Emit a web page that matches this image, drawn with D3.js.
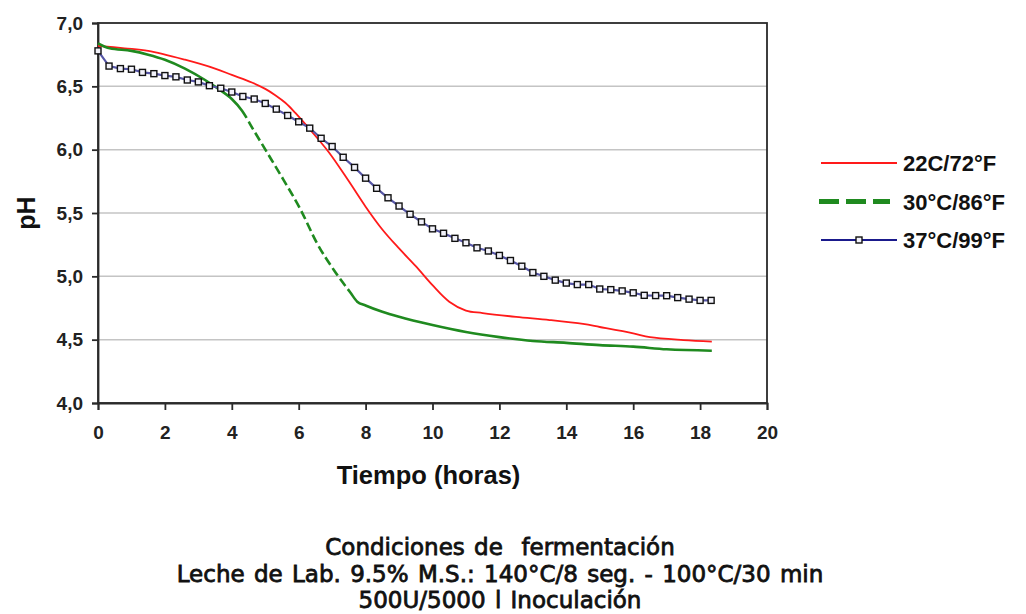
<!DOCTYPE html>
<html>
<head>
<meta charset="utf-8">
<script src="https://cdn.jsdelivr.net/npm/d3@7"></script>
<style>
  body { margin: 0; background: #fff; }
  svg { display: block; }
  .tick text { font-family: "Liberation Sans", Arial, sans-serif; font-weight: bold; fill: #222; }
</style>
</head>
<body>
<svg id="chart" width="1026" height="614"></svg>
<script>
// tick values
const xTicks = [0, 2, 4, 6, 8, 10, 12, 14, 16, 18, 20]
const yTicks = [4.0, 4.5, 5.0, 5.5, 6.0, 6.5, 7.0]

// 22C/72F
const redTime = [0, 0.8, 1.5, 2.6, 3.5, 4.0, 4.6, 5.0, 5.3, 5.6, 5.9, 6.3, 6.9, 7.5, 8.0, 8.5, 9.0, 9.5,
    10.0, 10.5, 11.0, 11.5, 12.5, 13.5, 14.5, 15.0, 16.0, 16.5, 17.5, 18.35]
const redPH = [6.82, 6.80, 6.78, 6.71, 6.64, 6.59, 6.53, 6.48, 6.43, 6.37, 6.29, 6.17, 5.98, 5.75, 5.55, 5.37, 5.22, 5.08,
    4.93, 4.80, 4.73, 4.71, 4.68, 4.655, 4.624, 4.60, 4.55, 4.52, 4.497, 4.485]

// 30C/86F
const greenTime = [0, 0.35, 1.0, 1.5, 2.0, 2.6, 3.2, 3.6, 4.0, 4.3, 4.65, 5.05, 5.55, 6.05, 6.55, 7.05, 7.55,
    7.75, 8.0, 8.5, 9.0, 10.0, 11.0, 12.0, 13.0, 14.0, 15.0, 16.0, 17.0, 18.35]
const greenPH = [6.84, 6.80, 6.78, 6.75, 6.71, 6.64, 6.55, 6.48, 6.40, 6.31, 6.155, 5.98, 5.76, 5.53, 5.26, 5.05, 4.87,
    4.80, 4.77, 4.72, 4.68, 4.615, 4.56, 4.52, 4.49, 4.475, 4.457, 4.445, 4.424, 4.413]

// 37C/99F (one reading every 20 min)
const blueTime = [0, 0.33, 0.67, 1.0, 1.33, 1.67, 2.0, 2.33, 2.67, 3.0, 3.33, 3.67, 4.0, 4.33, 4.67,
    5.0, 5.33, 5.67, 6.0, 6.33, 6.67, 7.0, 7.33, 7.67, 8.0, 8.33, 8.67, 9.0, 9.33, 9.67,
    10.0, 10.33, 10.67, 11.0, 11.33, 11.67, 12.0, 12.33, 12.67, 13.0, 13.33, 13.67, 14.0, 14.33, 14.67,
    15.0, 15.33, 15.67, 16.0, 16.33, 16.67, 17.0, 17.33, 17.67, 18.0, 18.33]
const bluePH = [6.78, 6.66, 6.64, 6.635, 6.61, 6.60, 6.585, 6.575, 6.55, 6.535, 6.505, 6.485, 6.455, 6.42, 6.40,
    6.365, 6.32, 6.27, 6.22, 6.17, 6.09, 6.025, 5.94, 5.86, 5.775, 5.695, 5.62, 5.555, 5.49, 5.43,
    5.375, 5.34, 5.30, 5.265, 5.225, 5.20, 5.165, 5.125, 5.08, 5.03, 5.0, 4.97, 4.947, 4.935, 4.935,
    4.90, 4.895, 4.885, 4.87, 4.85, 4.848, 4.847, 4.832, 4.82, 4.81, 4.81]

// the 30C line only shows its dashes on the steep part
const greenDashFrom = 4.3
const greenDashTo = 7.55

const seriesNames = ["22C/72°F", "30°C/86°F", "37°C/99°F"]
const footnotes = [
    "Condiciones de  fermentación",
    "Leche de Lab. 9.5% M.S.: 140°C/8 seg. - 100°C/30 min",
    "500U/5000 l Inoculación"
]

const svg = d3.select("#chart")
const plotLeft = 98, plotRight = 767, plotTop = 23, plotBottom = 403

const x = d3.scaleLinear().domain([0, 20]).range([plotLeft, plotRight])
const y = d3.scaleLinear().domain([4, 7]).range([plotBottom, plotTop])

const zip = (t, v) => t.map((d, i) => ({t: d, v: v[i]}))
const smoothLine = d3.line().x(d => x(d.t)).y(d => y(d.v)).curve(d3.curveCatmullRom.alpha(0.5))
const line = d3.line().x(d => x(d.t)).y(d => y(d.v)).curve(d3.curveMonotoneX)

// grid
svg.append("g").selectAll("line")
    .data(yTicks.slice(1, -1)).enter().append("line")
    .attr("x1", plotLeft).attr("x2", plotRight)
    .attr("y1", d => y(d)).attr("y2", d => y(d))
    .attr("stroke", "#c4c4c4").attr("stroke-width", 1.5)

// frame
svg.append("rect")
    .attr("x", plotLeft).attr("y", plotTop)
    .attr("width", plotRight - plotLeft).attr("height", plotBottom - plotTop)
    .attr("fill", "none").attr("stroke", "#2a2a2a").attr("stroke-width", 1.8)

// axes
const yAxis = svg.append("g").attr("transform", `translate(${plotLeft},0)`)
    .call(d3.axisLeft(y).tickValues(yTicks).tickSize(6).tickPadding(9)
        .tickFormat(d => d.toFixed(1).replace(".", ",")))
const xAxis = svg.append("g").attr("transform", `translate(0,${plotBottom})`)
    .call(d3.axisBottom(x).tickValues(xTicks).tickSize(7).tickPadding(16))

yAxis.selectAll(".tick text").style("font-size", "19px")
xAxis.selectAll(".tick text").style("font-size", "19px")
svg.selectAll(".domain").attr("stroke", "#2a2a2a").attr("stroke-width", 1.8)
svg.selectAll(".tick line").attr("stroke", "#2a2a2a").attr("stroke-width", 1.8)

svg.append("text")
    .attr("transform", `translate(35,${(plotTop + plotBottom) / 2}) rotate(-90)`)
    .attr("text-anchor", "middle")
    .style("font-family", "'Liberation Sans', Arial, sans-serif")
    .style("font-weight", "bold").style("font-size", "25px").attr("fill", "#111")
    .text("pH")

svg.append("text")
    .attr("x", (plotLeft + plotRight) / 2 - 4).attr("y", 484)
    .attr("text-anchor", "middle")
    .style("font-family", "'Liberation Sans', Arial, sans-serif")
    .style("font-weight", "bold").style("font-size", "25.5px").attr("fill", "#111")
    .text("Tiempo (horas)")

// red
svg.append("path").datum(zip(redTime, redPH))
    .attr("d", smoothLine).attr("fill", "none")
    .attr("stroke", "#ff1a1a").attr("stroke-width", 1.8)

// green, dashed between greenDashFrom and greenDashTo
const greenPath = svg.append("path").datum(zip(greenTime, greenPH))
    .attr("d", line).attr("fill", "none")
    .attr("stroke", "#1f8a1f").attr("stroke-width", 2.6)

function lengthAtX(node, px) {
    let lo = 0, hi = node.getTotalLength()
    for (let k = 0; k < 40; k++) {
        const mid = (lo + hi) / 2
        if (node.getPointAtLength(mid).x < px) lo = mid
        else hi = mid
    }
    return lo
}
const gNode = greenPath.node()
const total = gNode.getTotalLength()
const l1 = lengthAtX(gNode, x(greenDashFrom))
const l2 = lengthAtX(gNode, x(greenDashTo))
const dashes = [l1, 0]
for (let s = l1; s + 13 < l2; s += 13) dashes.push(9, 4)
dashes.push(total, 0)
greenPath.attr("stroke-dasharray", dashes.join(" "))

// blue
const blueData = zip(blueTime, bluePH)
svg.append("path").datum(blueData)
    .attr("d", d3.line().x(d => x(d.t)).y(d => y(d.v)))
    .attr("fill", "none").attr("stroke", "#5656a6").attr("stroke-width", 2.2)
svg.append("g").selectAll("rect")
    .data(blueData).enter().append("rect")
    .attr("x", d => x(d.t) - 3).attr("y", d => y(d.v) - 3)
    .attr("width", 6).attr("height", 6)
    .attr("fill", "#f2f2fa").attr("stroke", "#111").attr("stroke-width", 1.4)

// legend
const legend = svg.append("g").attr("transform", "translate(820,163)")
const rows = legend.selectAll("g").data(seriesNames).enter().append("g")
    .attr("transform", (d, i) => `translate(0,${i * 38.5})`)
rows.append("text")
    .attr("x", 83).attr("y", 8)
    .style("font-family", "'Liberation Sans', Arial, sans-serif")
    .style("font-weight", "bold").style("font-size", "22px").attr("fill", "#111")
    .text(d => d)
rows.filter((d, i) => i == 0).append("line")
    .attr("x1", 1).attr("x2", 77)
    .attr("stroke", "#ff1a1a").attr("stroke-width", 1.8)
rows.filter((d, i) => i == 1).append("line")
    .attr("x1", -1).attr("x2", 70)
    .attr("stroke", "#1f8a1f").attr("stroke-width", 5)
    .attr("stroke-dasharray", "20 7")
const blueRow = rows.filter((d, i) => i == 2)
blueRow.append("line")
    .attr("x1", 1).attr("x2", 77)
    .attr("stroke", "#1a1a8c").attr("stroke-width", 1.8)
blueRow.append("rect")
    .attr("x", 36).attr("y", -3).attr("width", 6).attr("height", 6)
    .attr("fill", "#f2f2fa").attr("stroke", "#111").attr("stroke-width", 1.4)

// conditions under the chart
svg.append("g").selectAll("text")
    .data(footnotes).enter().append("text")
    .attr("x", 500).attr("y", (d, i) => 555 + i * 26.5)
    .attr("text-anchor", "middle")
    .style("font-family", "'DejaVu Sans', sans-serif")
    .style("font-size", "23px").style("word-spacing", "2px")
    .style("white-space", "pre")
    .attr("fill", "#111").attr("stroke", "#111").attr("stroke-width", 0.8)
    .text(d => d)
</script>
</body>
</html>
